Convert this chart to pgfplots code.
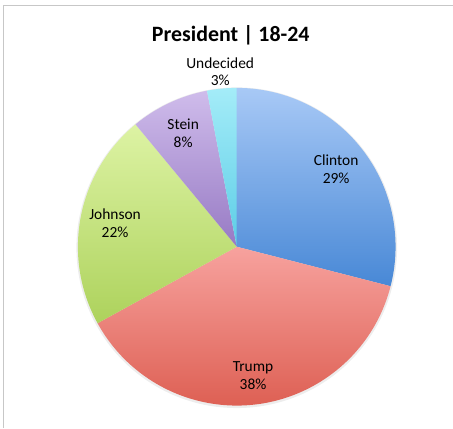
\documentclass[border=0pt]{standalone}
\usepackage{fontspec}
\setmainfont{Carlito}
\usepackage{pgfplots}
\usepackage{pgfplotstable}
\pgfplotsset{compat=1.18}

% slice, share (%), label distance from centre
\pgfplotstableread{
name      value lr
Clinton   29    126
Trump     38    130
Johnson   22    124
Stein     8     126
Undecided 3     176
}\piedata

\definecolor{top0}{HTML}{A8C9F6}\definecolor{bot0}{HTML}{4888D6}
\definecolor{top1}{HTML}{F7A29E}\definecolor{bot1}{HTML}{DB594C}
\definecolor{top2}{HTML}{DDF3A4}\definecolor{bot2}{HTML}{ADD25C}
\definecolor{top3}{HTML}{CFBCEB}\definecolor{bot3}{HTML}{977AC4}
\definecolor{top4}{HTML}{A4ECF8}\definecolor{bot4}{HTML}{5CCDE6}

\begin{document}
\begin{tikzpicture}
\def\cum{0}
\pgfplotsforeachungrouped \i in {0,...,4}{%
  \pgfplotstablegetelem{\i}{value}\of\piedata \let\v=\pgfplotsretval
  \pgfplotstablegetelem{\i}{lr}\of\piedata \let\lr=\pgfplotsretval
  \pgfplotstablegetelem{\i}{name}\of\piedata \let\nm=\pgfplotsretval
  \pgfmathsetmacro{\sa}{90-3.6*\cum}
  \pgfmathsetmacro{\ea}{\sa-3.6*\v}
  \pgfmathsetmacro{\ma}{(\sa+\ea)/2}
  \pgfmathsetmacro{\lx}{237+\lr*cos(\ma)}
  \pgfmathsetmacro{\ly}{181+\lr*sin(\ma)}
  \pgfmathsetmacro{\cum}{\cum+\v}
  \expandafter\xdef\csname sa\i\endcsname{\sa}
  \expandafter\xdef\csname ea\i\endcsname{\ea}
  \expandafter\xdef\csname lx\i\endcsname{\lx}
  \expandafter\xdef\csname ly\i\endcsname{\ly}
  \expandafter\xdef\csname nm\i\endcsname{\nm}
  \expandafter\xdef\csname vv\i\endcsname{\v}
}
\begin{axis}[
  width=453bp, height=428bp, scale only axis,
  xmin=0, xmax=453, ymin=0, ymax=428,
  hide axis, clip=false,
]
\path (axis cs:0,0) rectangle (axis cs:453,428);
\draw[black!22, line width=1bp] (axis cs:3.5,0) |- (axis cs:453,422);
\fill[black!7] (axis cs:237,180) circle[radius=160.5bp];
\pgfplotsinvokeforeach{0,...,4}{%
  \edef\tmp{\noexpand\shade[top color=top#1, bottom color=bot#1]
    (axis cs:237,181) -- ++(\csname sa#1\endcsname:159bp)
    arc[start angle=\csname sa#1\endcsname, end angle=\csname ea#1\endcsname, radius=159bp]
    -- cycle;}\tmp
  \edef\tmp{\noexpand\node[align=center, font=\noexpand\fontsize{15.5}{18}\noexpand\selectfont]
    at (axis cs:\csname lx#1\endcsname,\csname ly#1\endcsname)
    {\csname nm#1\endcsname\noexpand\\\csname vv#1\endcsname\noexpand\%};}\tmp
}
\node[font=\bfseries\fontsize{22}{26}\selectfont] at (axis cs:231,393) {President | 18-24};
\end{axis}
\end{tikzpicture}
\end{document}
